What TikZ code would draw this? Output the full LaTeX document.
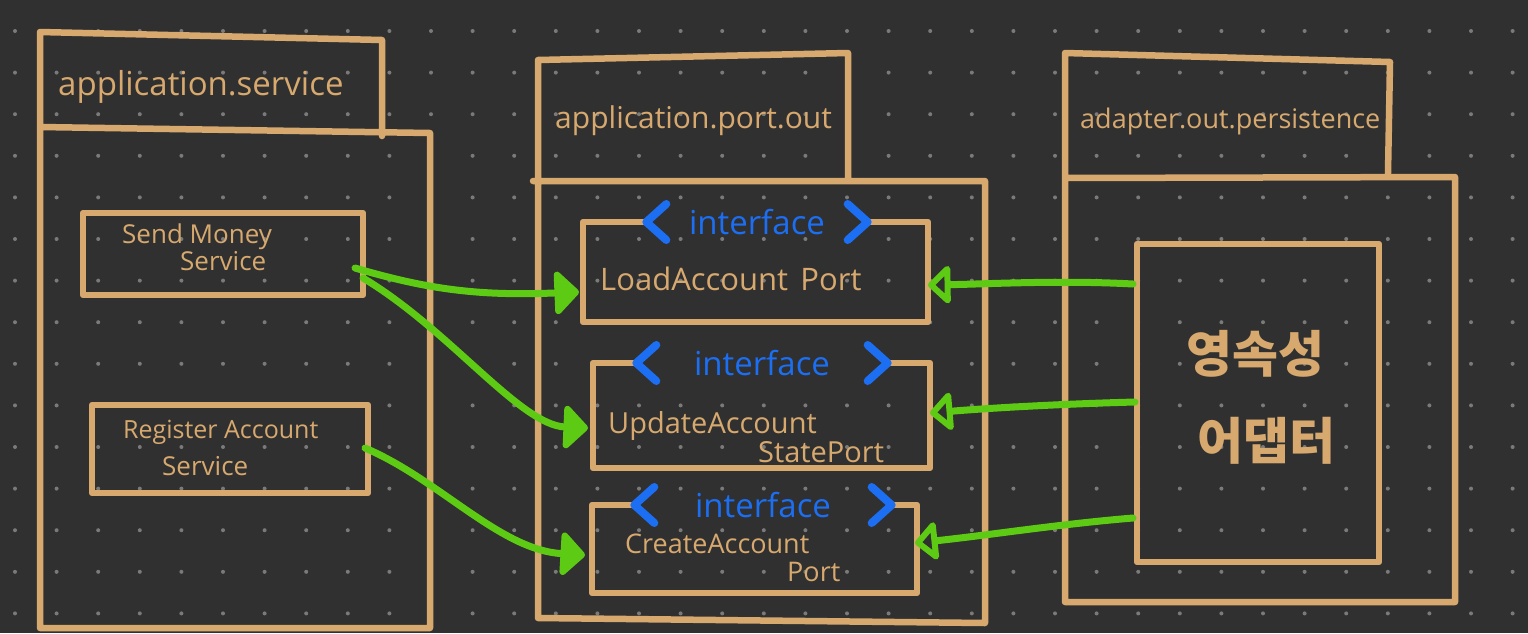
\documentclass[tikz,border=0pt]{standalone}
\usepackage{fontspec}
\setmainfont{Open Sans}
\newfontfamily\korfont{Noto Sans CJK KR}
\usetikzlibrary{arrows.meta}
\definecolor{bgc}{HTML}{303030}
\definecolor{tan}{HTML}{D7A96F}
\definecolor{grn}{HTML}{5DCB14}
\definecolor{ifblue}{HTML}{1C6EF2}
\definecolor{dotc}{HTML}{7A7A7A}

\begin{document}
\begin{tikzpicture}[x=1pt,y=-1pt,
  pkg/.style={draw=tan,line width=6.5pt,line join=round,line cap=round},
  box/.style={draw=tan,line width=6.5pt,line join=round,inner sep=0pt,outer sep=0pt,anchor=north west},
  txt/.style={text=tan,inner sep=0pt,anchor=base west},
  kor/.style={text=tan,inner sep=0pt,font=\korfont\bfseries\fontsize{50}{50}\selectfont},
  iface/.style={fill=bgc,text=ifblue,inner sep=0pt,text height=24pt,text depth=0pt,
    font=\fontsize{33}{33}\selectfont},
  chev/.style={draw=ifblue,line width=8pt,line cap=round,line join=round},
  uses/.style={draw=grn,line width=7pt,line cap=round,
    -{Triangle[length=26pt,width=50pt,round]}},
  impl/.style={draw=grn,line width=7pt,line cap=round,
    -{Triangle[open,length=24pt,width=44pt,round]}},
]
% canvas and dot grid
\fill[bgc] (0,0) rectangle (1528,633);
\useasboundingbox (0,0) rectangle (1528,633);
\foreach \i in {0,...,36}{\foreach \j in {0,...,14}{
  \fill[dotc] ({15+41.6*\i},{31+41.6*\j}) circle (2pt);}}

% packages (tab + body)
\draw[pkg] (382,136) -- (382,40) -- (40,32) -- (40,628) -- (430,628) -- (430,133) -- (40,127);
\draw[pkg] (848,178) -- (848,53) -- (538,60) -- (538,618) -- (985,623) -- (985,181) -- (533,181);
\draw[pkg] (1388,173) -- (1390,62) -- (1065,53) -- (1065,602) -- (1455,602) -- (1455,177) -- (1065,178);

\node[txt,font=\fontsize{33}{33}\selectfont] (svcpkg) at (58,95) {application.service};
\node[txt,font=\fontsize{30}{30}\selectfont] (portpkg) at (555,128) {application.port.out};
\node[txt,font=\fontsize{27}{27}\selectfont] (perpkg) at (1080,128) {adapter.out.persistence};

% classes
\node[box,minimum width=280pt,minimum height=82pt] (send) at (83,213) {};
\node[box,minimum width=276pt,minimum height=88pt] (reg) at (92,405) {};
\node[box,minimum width=345pt,minimum height=100pt] (load) at (583,222) {};
\node[box,minimum width=337pt,minimum height=105pt] (upd) at (593,363) {};
\node[box,minimum width=325pt,minimum height=88pt] (cre) at (592,505) {};
\node[box,minimum width=242pt,minimum height=318pt] (adp) at (1137,244) {};

\node[txt,font=\fontsize{26}{26}\selectfont] (sendA) at (122,243) {Send Money};
\node[txt,font=\fontsize{26}{26}\selectfont] (sendB) at (180,270) {Service};
\node[txt,font=\fontsize{25}{25}\selectfont] (regA) at (123,438) {Register Account};
\node[txt,font=\fontsize{26}{26}\selectfont] (regB) at (162,475) {Service};
\node[txt,font=\fontsize{31}{31}\selectfont] (loadA) at (600,290) {LoadAccount\hspace{0.4em}Port};
\node[txt,font=\fontsize{29}{29}\selectfont] (updA) at (608,433) {UpdateAccount};
\node[txt,font=\fontsize{29}{29}\selectfont] (updB) at (758,462) {StatePort};
\node[txt,font=\fontsize{27}{27}\selectfont] (creA) at (625,553) {CreateAccount};
\node[txt,font=\fontsize{27}{27}\selectfont] (creB) at (787,581) {Port};
\node[kor] (adpA) at (1255,354) {영속성};
\node[kor] (adpB) at (1266,441) {어댑터};

% interface stereotypes sitting on the top border
\node[iface,minimum width=221pt] (ifload) at (757,222) {interface};
\node[iface,minimum width=251pt] (ifupd) at (762,363) {interface};
\node[iface,minimum width=257pt] (ifcre) at (763,505) {interface};
\foreach \n in {ifload,ifupd,ifcre}{
  \draw[chev] ([xshift=20pt,yshift=18pt]\n.west) -- (\n.west) -- ([xshift=20pt,yshift=-18pt]\n.west);
  \draw[chev] ([xshift=-20pt,yshift=18pt]\n.east) -- (\n.east) -- ([xshift=-20pt,yshift=-18pt]\n.east);
}

% services use the outgoing ports
\draw[uses] ([xshift=-8pt,yshift=-55pt]send.north east)
  .. controls (430,290) and (480,296) .. ([xshift=-4pt,yshift=-70pt]load.north west);
\draw[uses] ([yshift=-65pt]send.north east)
  .. controls (450,330) and (520,425) .. ([xshift=-5pt,yshift=-65pt]upd.north west);
\draw[uses] ([xshift=-3pt,yshift=-43pt]reg.north east)
  .. controls (440,480) and (500,550) .. ([xshift=-7pt,yshift=-50pt]cre.north west);

% the persistence adapter implements them
\draw[impl] ([xshift=-4pt,yshift=-40pt]adp.north west)
  .. controls (1060,280) and (990,284) .. ([yshift=-63pt]load.north east);
\draw[impl] ([xshift=-2pt,yshift=-158pt]adp.north west)
  .. controls (1060,404) and (990,408) .. ([yshift=-50pt]upd.north east);
\draw[impl] ([xshift=-4pt,yshift=-274pt]adp.north west)
  .. controls (1060,524) and (990,535) .. ([xshift=-2pt,yshift=-38pt]cre.north east);
\end{tikzpicture}
\end{document}
